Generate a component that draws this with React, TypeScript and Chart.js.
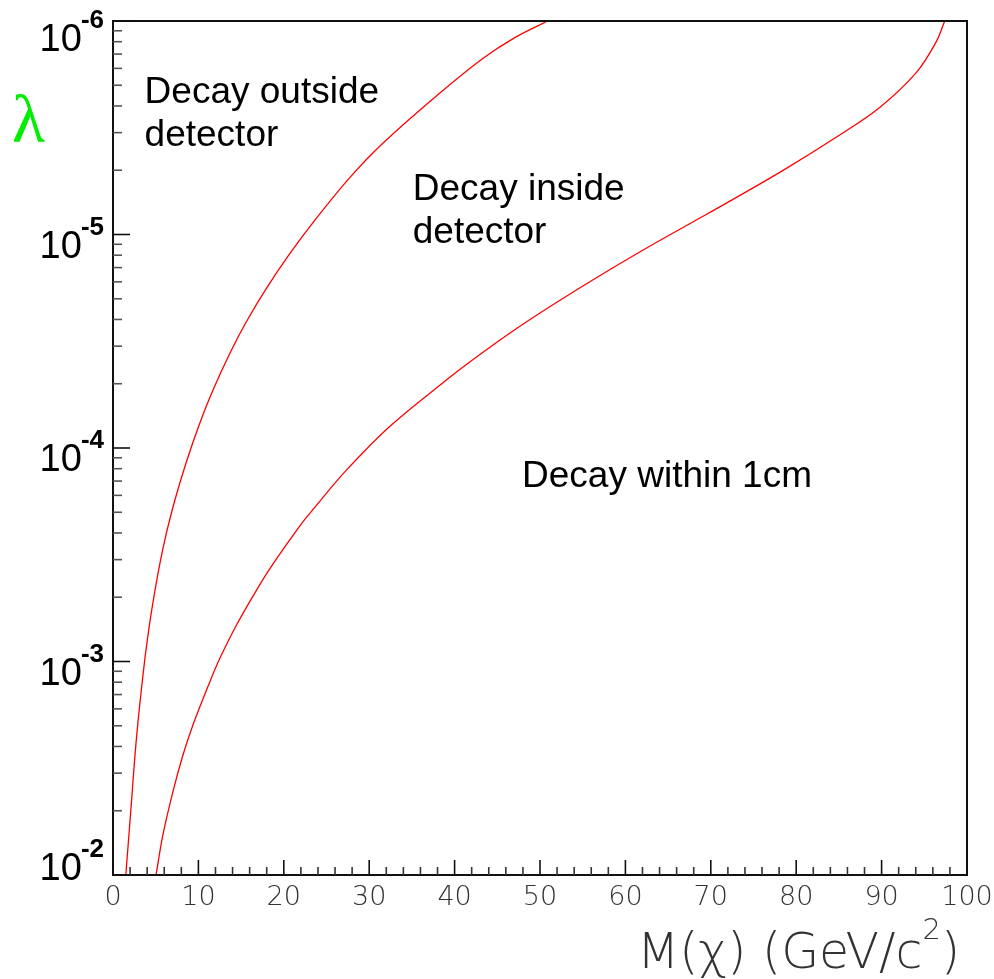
import React, { useEffect, useRef } from "react";
import { Chart, registerables } from "chart.js";

Chart.register(...registerables);

// Boundary between "decay outside detector" and "decay inside detector"
const massOuter = [1.5, 2.1, 2.7, 3.3, 3.9, 4.65, 5.8, 7.0, 8.6, 10.15, 11.7, 13.7, 15.6, 18.0, 20.7, 23.8, 27.7, 31.6, 37.9, 43.3, 47.0, 50.9];
const lambdaOuter = [1.0e-2, 4.9e-3, 2.4e-3, 1.38e-3, 8.61e-4, 5.37e-4, 3.02e-4, 1.905e-4, 1.16e-4, 7.67e-5, 5.37e-5, 3.59e-5, 2.57e-5, 1.78e-5, 1.23e-5, 8.41e-6, 5.43e-6, 3.74e-6, 2.24e-6, 1.5e-6, 1.2e-6, 1.0e-6];

// Boundary between "decay inside detector" and "decay within 1cm"
const massInner = [5.04, 5.82, 6.99, 8.16, 9.33, 11.29, 12.46, 14.4, 16.74, 18.7, 21.86, 23.42, 27.33, 32.4, 39.04, 41.38, 46.45, 51.14, 56.99, 62.84, 67.95, 71.83, 78.46, 85.09, 89.78, 94.08, 96.42, 97.39];
const lambdaInner = [1.0e-2, 6.56e-3, 4.11e-3, 2.77e-3, 2.0e-3, 1.26e-3, 9.77e-4, 6.82e-4, 4.68e-4, 3.51e-4, 2.32e-4, 1.94e-4, 1.27e-4, 7.93e-5, 4.8e-5, 4.06e-5, 2.9e-5, 2.18e-5, 1.56e-5, 1.135e-5, 8.71e-6, 7.13e-6, 5.01e-6, 3.42e-6, 2.54e-6, 1.74e-6, 1.245e-6, 1.0e-6];

// Axes
const xMajorTicks = [0, 10, 20, 30, 40, 50, 60, 70, 80, 90, 100];
const xMinorTicks = [2, 4, 6, 8, 12, 14, 16, 18, 22, 24, 26, 28, 32, 34, 36, 38, 42, 44, 46, 48, 52, 54, 56, 58, 62, 64, 66, 68, 72, 74, 76, 78, 82, 84, 86, 88, 92, 94, 96, 98];
const yDecadeExponents = [-2, -3, -4, -5, -6];
const yMinorMultipliers = [2, 3, 4, 5, 6, 7, 8, 9];
const xTitleMain = "M(\u03c7) (GeV/c";
const xTitleSup = "2";
const xTitleEnd = ")";
const yTitle = "\u03bb";

// Region labels: [lines, mass of left edge, lambda at first baseline]
const regionTexts = [["Decay outside", "detector"], ["Decay inside", "detector"], ["Decay within 1cm"]];
const regionMass = [3.7, 35.1, 47.9];
const regionLambda = [2.42e-6, 6.89e-6, 1.52e-4];

const decorPlugin = {
  id: "decor",
  afterDatasetsDraw(chart: any) {
    const ctx = chart.ctx as CanvasRenderingContext2D;
    const xs = chart.scales.x;
    const ys = chart.scales.y;
    const { left, right, top, bottom } = chart.chartArea;
    ctx.save();

    // frame
    ctx.strokeStyle = "#111";
    ctx.lineWidth = 2;
    ctx.strokeRect(left, top, right - left, bottom - top);

    // y ticks (inward)
    ctx.lineWidth = 1.6;
    yDecadeExponents.forEach((e) => {
      const y = ys.getPixelForValue(Math.pow(10, e));
      ctx.strokeStyle = "#111";
      ctx.beginPath();
      ctx.moveTo(left, y);
      ctx.lineTo(left + 17, y);
      ctx.stroke();
    });
    for (let m = 2; m <= 5; m++) {
      yMinorMultipliers.forEach((k) => {
        const y = ys.getPixelForValue(1 / (k * Math.pow(10, m)));
        ctx.strokeStyle = "#555";
        ctx.beginPath();
        ctx.moveTo(left, y);
        ctx.lineTo(left + 9, y);
        ctx.stroke();
      });
    }

    // x ticks (inward)
    xMajorTicks.forEach((v) => {
      const x = xs.getPixelForValue(v);
      ctx.strokeStyle = "#111";
      ctx.beginPath();
      ctx.moveTo(x, bottom);
      ctx.lineTo(x, bottom - 15);
      ctx.stroke();
    });
    xMinorTicks.forEach((v) => {
      const x = xs.getPixelForValue(v);
      ctx.strokeStyle = "#333";
      ctx.beginPath();
      ctx.moveTo(x, bottom);
      ctx.lineTo(x, bottom - 8);
      ctx.stroke();
    });

    // x tick labels
    ctx.fillStyle = "#333";
    ctx.font = '200 27px "DejaVu Sans", "Liberation Sans", sans-serif';
    ctx.textAlign = "center";
    ctx.textBaseline = "alphabetic";
    xMajorTicks.forEach((v) => {
      const x = xs.getPixelForValue(v);
      ctx.fillText(String(v), x, bottom + 30);
    });

    // x title
    const mainFont = '200 49px "DejaVu Sans", "Liberation Sans", sans-serif';
    const supFont = '200 29px "DejaVu Sans", "Liberation Sans", sans-serif';
    ctx.font = mainFont;
    const wMain = ctx.measureText(xTitleMain).width;
    const wEnd = ctx.measureText(xTitleEnd).width;
    ctx.font = supFont;
    const wSup = ctx.measureText(xTitleSup).width;
    const titleRight = right - 7;
    let tx = titleRight - (wMain + wSup + wEnd);
    const tBase = bottom + 93;
    ctx.textAlign = "left";
    ctx.fillStyle = "#333";
    ctx.font = mainFont;
    ctx.fillText(xTitleMain, tx, tBase);
    tx += wMain;
    ctx.font = supFont;
    ctx.fillText(xTitleSup, tx, tBase - 29);
    tx += wSup;
    ctx.font = mainFont;
    ctx.fillText(xTitleEnd, tx, tBase);

    // y tick labels 10^-n
    const tenFont = '38px "Liberation Sans", Arial, sans-serif';
    const expFont = 'bold 26px "Liberation Sans", Arial, sans-serif';
    yDecadeExponents.forEach((e) => {
      const y = ys.getPixelForValue(Math.pow(10, e));
      let base = y + 23;
      if (base < 51) base = 51;
      if (base > 880) base = 880;
      const expText = String(e);
      ctx.font = tenFont;
      const wTen = ctx.measureText("10").width;
      ctx.font = expFont;
      const wExp = ctx.measureText(expText).width;
      const rx = 105;
      const x0 = rx - wExp - wTen;
      ctx.fillStyle = "#000";
      ctx.textAlign = "left";
      ctx.font = tenFont;
      ctx.fillText("10", x0, base);
      ctx.font = expFont;
      ctx.fillText(expText, x0 + wTen - 1, base - 23);
    });

    // y title lambda
    ctx.fillStyle = "#00ee00";
    ctx.font = '68px "Liberation Serif", "DejaVu Serif", serif';
    ctx.textAlign = "left";
    ctx.fillText(yTitle, 12, 142);

    // region labels
    ctx.fillStyle = "#000";
    ctx.font = '37px "Liberation Sans", Arial, sans-serif';
    regionTexts.forEach((lines, i) => {
      const x = xs.getPixelForValue(regionMass[i]);
      const y = ys.getPixelForValue(regionLambda[i]);
      lines.forEach((ln, j) => {
        ctx.fillText(ln, x, y + j * 43);
      });
    });

    ctx.restore();
  },
};

export default function App() {
  const ref = useRef<HTMLCanvasElement | null>(null);
  useEffect(() => {
    document.body.style.margin = "0";
    const canvas = ref.current;
    if (!canvas) return;
    const toPts = (xs: number[], ys: number[]) => xs.map((x, i) => ({ x, y: ys[i] }));
    const chart = new Chart(canvas, {
      type: "line",
      data: {
        datasets: [
          {
            data: toPts(massOuter, lambdaOuter),
            borderColor: "#ff0000",
            borderWidth: 1.3,
            pointRadius: 0,
            tension: 0.35,
            fill: false,
          },
          {
            data: toPts(massInner, lambdaInner),
            borderColor: "#ff0000",
            borderWidth: 1.3,
            pointRadius: 0,
            tension: 0.35,
            fill: false,
          },
        ],
      },
      options: {
        responsive: false,
        animation: false,
        layout: { padding: { left: 113, top: 21, right: 27, bottom: 104 } },
        plugins: { legend: { display: false }, tooltip: { enabled: false } },
        scales: {
          x: { type: "linear", min: 0, max: 100, display: false },
          y: { type: "logarithmic", min: 1e-6, max: 1e-2, reverse: true, display: false },
        },
      },
      plugins: [decorPlugin],
    });
    return () => chart.destroy();
  }, []);
  return (
    <div style={{ position: "absolute", left: 0, top: 0, width: 994, height: 979, background: "#fff" }}>
      <canvas ref={ref} width={994} height={979} style={{ width: 994, height: 979 }} />
    </div>
  );
}
